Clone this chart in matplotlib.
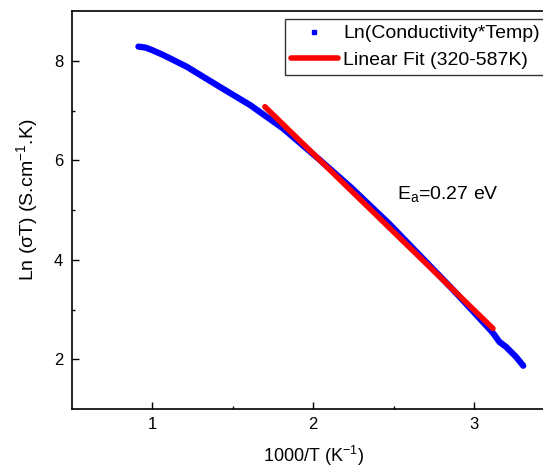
"""
Gráfico de Arrhenius: Ln(sigma*T) vs 1000/T con el ajuste lineal
en el rango 320-587K (Ea = 0.27 eV).
"""

import matplotlib

matplotlib.use("Agg")  # sin ventana: solo guardar a archivo
import matplotlib.pyplot as plt
from matplotlib.lines import Line2D

inv_temp = [0.915, 0.96, 1.00, 1.07, 1.215, 1.42, 1.61, 1.81, 2.03, 2.23,
            2.47, 2.87, 3.11, 3.124, 3.155, 3.196, 3.258, 3.303]
ln_sigma_t = [8.29, 8.27, 8.22, 8.12, 7.885, 7.48, 7.11, 6.65, 6.04, 5.47,
              4.73, 3.39, 2.55, 2.49, 2.35, 2.25, 2.05, 1.87]

# Ajuste lineal (320-587K)
fit_x = [1.70, 3.115]
fit_y = [7.08, 2.62]

x_ticks = [1, 2, 3]
y_ticks = [2, 4, 6, 8]

COLOR_DATOS = "#0000FF"
COLOR_AJUSTE = "#FF0000"

plt.rcParams["font.family"] = ["Liberation Sans", "DejaVu Sans"]
plt.rcParams["mathtext.fontset"] = "custom"
plt.rcParams["mathtext.rm"] = "Liberation Sans"
plt.rcParams["mathtext.default"] = "regular"

W, H = 543, 468
fig = plt.figure(figsize=(W / 100, H / 100), dpi=100)
# el eje derecho queda fuera del recorte, como en el original
ax = fig.add_axes([71.5 / W, (H - 409) / H, 483.5 / W, 397.7 / H])

ax.plot(inv_temp, ln_sigma_t, "-", color=COLOR_DATOS, lw=4.5,
        solid_capstyle="round", solid_joinstyle="round", zorder=2)
ax.plot(fit_x, fit_y, "-", color=COLOR_AJUSTE, lw=4.0,
        solid_capstyle="round", zorder=3)

ax.set_xlim(0.5, 3.5)
ax.set_ylim(1, 9)
ax.set_xticks(x_ticks)
ax.set_yticks(y_ticks)
ax.set_xticks([1.5, 2.5], minor=True)
ax.set_yticks([3, 5, 7], minor=True)
ax.tick_params(which="both", direction="in", width=1, labelsize=12, pad=6)
ax.tick_params(which="major", length=5)
ax.tick_params(which="minor", length=2.5)
ax.spines["right"].set_visible(False)
for lado in ["left", "bottom", "top"]:
    ax.spines[lado].set_linewidth(1.2)

ax.set_xlabel(r"1000/T (K$^{-1}$)", fontsize=13)
ax.set_ylabel(r"Ln ($\sigma$T) (S.cm$^{-1}$.K)", fontsize=14)
ax.xaxis.set_label_coords(0.5, -0.088)
ax.yaxis.set_label_coords(-0.066, 0.5255)

ax.text(2.52, 5.23, r"E$_a$=0.27 eV", fontsize=14, va="baseline", ha="left")

handles = [
    Line2D([], [], ls="none", marker="s", ms=3, color=COLOR_DATOS),
    Line2D([], [], ls="-", lw=4.0, color=COLOR_AJUSTE, solid_capstyle="round"),
]
etiquetas = ["Ln(Conductivity*Temp)", "Linear Fit (320-587K)"]
leg = ax.legend(handles, etiquetas, loc="upper left",
                bbox_to_anchor=(285 / W, 1 - 19 / H), bbox_transform=fig.transFigure,
                fontsize=14, frameon=True, fancybox=False, edgecolor="black",
                borderpad=0.3, labelspacing=0.45, handlelength=2.4,
                handletextpad=0.3, borderaxespad=0)
leg.get_frame().set_linewidth(1.0)

fig.savefig("out.png", dpi=100)
